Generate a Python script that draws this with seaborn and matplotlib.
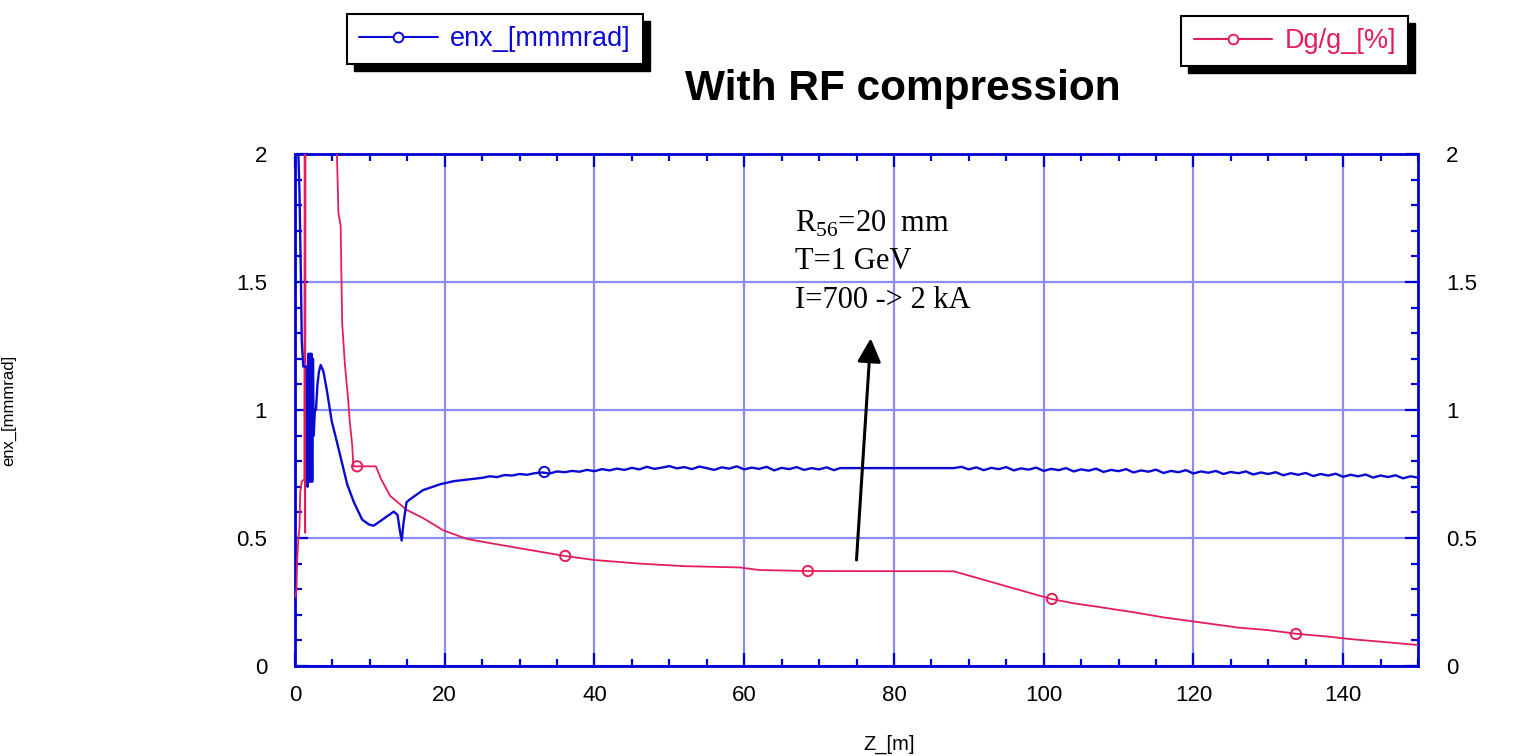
import numpy as np
import pandas as pd
import matplotlib
matplotlib.use("Agg")
import matplotlib.pyplot as plt
from matplotlib.lines import Line2D
from matplotlib.patches import Rectangle
import seaborn as sns

# ---------------- data ----------------
# enx_[mmmrad] : early part (z in m)
blue_z_early = [0.0, 0.45, 0.6, 0.8, 0.9, 1.1, 1.6, 1.68, 1.8, 1.9, 2.0, 2.1, 2.2, 2.3,
                2.4, 2.5, 2.65, 2.8, 3.0, 3.2, 3.43, 3.8, 4.24, 4.9, 5.6, 6.3, 6.97, 7.86,
                8.97, 9.86, 10.5, 11.4, 12.3, 13.2, 13.7, 14.0, 14.25, 14.5, 14.9, 15.4,
                17.1, 19.4, 21.2, 23.0, 24.0]
blue_v_early = [2.5, 2.0, 1.85, 1.5, 1.27, 1.17, 1.17, 0.70, 1.22, 0.72, 1.22, 0.72, 1.22, 0.72,
                1.20, 0.90, 1.0, 1.0, 1.10, 1.15, 1.176, 1.15, 1.08, 0.957, 0.875, 0.79, 0.71, 0.64,
                0.572, 0.553, 0.548, 0.566, 0.585, 0.603, 0.59, 0.53, 0.49, 0.56, 0.64, 0.652,
                0.687, 0.71, 0.722, 0.728, 0.731]
# noisy plateau 25..72 m (1 m steps)
blue_z_mid = list(range(25, 73))
blue_v_mid = [0.735, 0.741, 0.738, 0.746, 0.744, 0.750, 0.747, 0.753, 0.756, 0.752, 0.760, 0.757,
              0.762, 0.759, 0.766, 0.761, 0.769, 0.764, 0.771, 0.766, 0.774, 0.768, 0.778, 0.770,
              0.775, 0.781, 0.772, 0.777, 0.769, 0.779, 0.773, 0.766, 0.776, 0.771, 0.780, 0.768,
              0.775, 0.770, 0.778, 0.764, 0.774, 0.769, 0.777, 0.766, 0.773, 0.768, 0.776, 0.765]
# flat section
blue_z_flat = [72.8, 88.0]
blue_v_flat = [0.773, 0.773]
# noisy tail 89..150 m
blue_z_tail = list(range(89, 151))
blue_v_tail = [0.778, 0.768, 0.776, 0.765, 0.774, 0.769, 0.777, 0.764, 0.772, 0.767, 0.775, 0.762,
               0.770, 0.765, 0.773, 0.760, 0.768, 0.763, 0.771, 0.758, 0.766, 0.761, 0.769, 0.756,
               0.764, 0.759, 0.767, 0.754, 0.762, 0.757, 0.765, 0.752, 0.760, 0.755, 0.762, 0.750,
               0.758, 0.753, 0.760, 0.748, 0.756, 0.750, 0.757, 0.745, 0.753, 0.747, 0.754, 0.742,
               0.750, 0.744, 0.751, 0.739, 0.747, 0.741, 0.748, 0.736, 0.744, 0.738, 0.745, 0.733,
               0.741, 0.736]
blue_marker_z = [33.3]
blue_marker_v = [0.758]

# Dg/g_[%]
red_z = [0.05, 0.2, 0.3, 0.45, 0.6, 0.7, 0.9, 1.25, 1.3, 1.36, 1.42, 5.5, 5.6, 5.8, 6.1, 6.2,
         6.3, 6.66, 7.1, 7.3, 7.65, 7.8, 10.8, 11.5, 12.7, 14.9, 17.1, 19.8, 22.9, 24.7, 30.0,
         36.0, 40.0, 46.0, 52.0, 59.4, 62.0, 68.5, 88.0, 91.0, 94.0, 97.0, 101.0, 104.0, 107.5,
         112.0, 116.0, 121.0, 126.0, 130.0, 134.0, 138.0, 141.0, 145.0, 150.0]
red_v = [0.27, 0.30, 0.42, 0.50, 0.54, 0.68, 0.72, 0.73, 2.6, 0.52, 2.6, 2.6, 2.0, 1.77, 1.72, 1.52,
         1.34, 1.18, 1.04, 0.96, 0.86, 0.78, 0.78, 0.73, 0.665, 0.61, 0.578, 0.53, 0.497, 0.487, 0.46,
         0.43, 0.414, 0.40, 0.39, 0.385, 0.375, 0.371, 0.37, 0.345, 0.32, 0.295, 0.262, 0.245, 0.23,
         0.21, 0.19, 0.17, 0.15, 0.14, 0.125, 0.115, 0.105, 0.095, 0.082]
red_marker_z = [8.3, 36.1, 68.5, 101.1, 133.7]
red_marker_v = [0.78, 0.43, 0.371, 0.262, 0.125]

x_ticks = [0, 20, 40, 60, 80, 100, 120, 140]
y_ticks = [0, 0.5, 1, 1.5, 2]
y_tick_labels = ["0", "0.5", "1", "1.5", "2"]

# ---------------- style ----------------
BLUE = "#0a0ad2"
RED = "#e41e5a"
GRID = "#8c8cf0"
SPINE = "#0000d0"

sns.set_style("white")
plt.rcParams["font.family"] = ["Liberation Sans", "DejaVu Sans"]
plt.rcParams["text.color"] = "black"
plt.rcParams["axes.labelcolor"] = "black"
plt.rcParams["mathtext.fontset"] = "custom"
plt.rcParams["mathtext.rm"] = "Liberation Serif"

W, H = 1538, 756
fig = plt.figure(figsize=(W / 100, H / 100), dpi=100)
ax = fig.add_axes([295 / W, 1 - 666 / H, (1418 - 295) / W, (666 - 154) / H])

blue_df = pd.DataFrame({"z": blue_z_early + blue_z_mid + blue_z_flat + blue_z_tail,
                        "v": blue_v_early + blue_v_mid + blue_v_flat + blue_v_tail})
red_df = pd.DataFrame({"z": red_z, "v": red_v})

sns.lineplot(data=red_df, x="z", y="v", ax=ax, color=RED, lw=1.3, sort=False,
             estimator=None, zorder=3)
sns.lineplot(data=blue_df, x="z", y="v", ax=ax, color=BLUE, lw=1.7, sort=False,
             estimator=None, zorder=4)
sns.scatterplot(x=red_marker_z, y=red_marker_v, ax=ax, marker="o", s=55,
                facecolor="none", edgecolor=RED, linewidth=1.4, zorder=5)
sns.scatterplot(x=blue_marker_z, y=blue_marker_v, ax=ax, marker="o", s=55,
                facecolor="none", edgecolor=BLUE, linewidth=1.4, zorder=5)

ax.set_xlim(0, 150)
ax.set_ylim(0, 2)
ax.set_xticks(x_ticks)
ax.set_xticks(np.arange(0, 151, 5), minor=True)
ax.set_yticks(y_ticks)
ax.set_yticklabels(y_tick_labels)
ax.set_yticks(np.arange(0, 2.01, 0.1), minor=True)
ax.set_xlabel("")
ax.set_ylabel("")

ax.grid(True, which="major", color=GRID, lw=1.6)
ax.set_axisbelow(True)
for s in ax.spines.values():
    s.set_color(SPINE)
    s.set_linewidth(2)
    s.set_visible(True)

ax.tick_params(which="both", direction="in", top=True, right=True, bottom=True, left=True,
               color=SPINE, width=1.6, labelright=True, labelleft=True)
ax.tick_params(which="major", length=9.5, labelsize=16, labelcolor="black")
ax.tick_params(which="minor", length=5)
ax.tick_params(axis="y", pad=20)
ax.tick_params(axis="x", pad=14)

# annotation text (serif)
tx = 66.8
ax.text(tx, 1.696, r"R$_{\mathregular{56}}$=20  mm", family="Liberation Serif", fontsize=22,
        va="baseline", ha="left", color="black", zorder=6)
ax.text(tx, 1.551, "T=1 GeV", family="Liberation Serif", fontsize=22, va="baseline",
        ha="left", color="black", zorder=6)
ax.text(tx, 1.398, "I=700 -> 2 kA", family="Liberation Serif", fontsize=22, va="baseline",
        ha="left", color="black", zorder=6)
ax.annotate("", xy=(76.9, 1.28), xytext=(75.0, 0.414),
            arrowprops=dict(arrowstyle="-|>,head_length=0.4,head_width=0.2",
                            mutation_scale=36, lw=2.2, color="black",
                            shrinkA=0, shrinkB=0), zorder=6)

# titles / labels
fig.text(902.5 / W, 1 - 100 / H, "With RF compression", ha="center", va="baseline",
         fontsize=30.5, fontweight="bold", color="black")
fig.text(889 / W, 1 - 744 / H, "Z_[m]", ha="center", va="center", fontsize=14.5,
         color="black")
fig.text(9 / W, 1 - 410 / H, "enx_[mmmrad]", ha="center", va="center", fontsize=12,
         rotation=90, color="black")

# legends
h_blue = Line2D([], [], color=BLUE, lw=1.5, marker="o", ms=7, mfc="white", mec=BLUE, mew=1.4)
h_red = Line2D([], [], color=RED, lw=1.5, marker="o", ms=7, mfc="white", mec=RED, mew=1.4)
common = dict(frameon=True, fancybox=False, framealpha=1, edgecolor="black", fontsize=19.5,
              handlelength=2.9, handletextpad=0.45, borderpad=0.45, numpoints=1,
              borderaxespad=0)
leg1 = fig.legend([h_blue], ["enx_[mmmrad]"], loc="upper left",
                  bbox_to_anchor=(347 / W, 1 - 14 / H), labelcolor=BLUE, **common)
leg2 = fig.legend([h_red], ["Dg/g_[%]"], loc="upper right",
                  bbox_to_anchor=(1408 / W, 1 - 16 / H), labelcolor=RED, **common)
for lg in (leg1, leg2):
    lg.get_frame().set_linewidth(1.5)
    lg.set_zorder(10)

fig.canvas.draw()
rend = fig.canvas.get_renderer()
for lg in (leg1, leg2):
    bb = lg.get_frame().get_window_extent(rend)
    sh = Rectangle((bb.x0 + 7, bb.y0 - 7), bb.width, bb.height, transform=None,
                   facecolor="black", edgecolor="black", zorder=9)
    fig.add_artist(sh)

fig.savefig("out.png", dpi=100)
